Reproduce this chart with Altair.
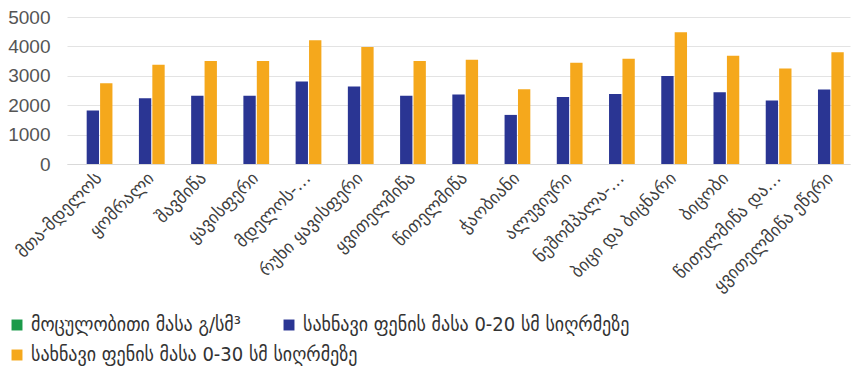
import altair as alt
import pandas as pd

categories = [
    "მთა-მდელოს", "ყომრალი", "შავმიწა", "ყავისფერი", "მდელოს-…",
    "რუხი ყავისფერი", "ყვითელმიწა", "წითელმიწა", "ჭაობიანი", "ალუვიური",
    "ნეშომპალა-…", "ბიცი და ბიცნარი", "ბიცობი", "წითელმიწა და…", "ყვითელმიწა ეწერი",
]
series_names = [
    "მოცულობითი მასა გ/სმ³",
    "სახნავი ფენის მასა 0-20 სმ სიღრმეზე",
    "სახნავი ფენის მასა 0-30 სმ სიღრმეზე",
]
mass_0_20 = [1820, 2240, 2320, 2320, 2810, 2640, 2320, 2360, 1670, 2280, 2380, 2990, 2440, 2160, 2530]
mass_0_30 = [2750, 3380, 3500, 3500, 4210, 3980, 3500, 3550, 2540, 3440, 3580, 4480, 3680, 3250, 3800]
colors = ["#1B9A4A", "#2A3593", "#F5A81C"]

df20 = pd.DataFrame({"cat": categories, "series": series_names[1], "value": mass_0_20})
df30 = pd.DataFrame({"cat": categories, "series": series_names[2], "value": mass_0_30})

font = "DejaVu Sans"
legend_font = "DejaVu Sans Condensed"

x_enc = alt.X("cat:N", sort=categories, title=None,
              scale=alt.Scale(paddingInner=0.25, paddingOuter=0.12),
              axis=alt.Axis(labelAngle=-45, labelFontSize=17.5, labelColor="#404040",
                            labelFont=font, ticks=False, domain=True, domainColor="#d9d9d9",
                            labelPadding=5, labelLimit=300))
xo_enc = alt.XOffset("series:N", sort=series_names,
                     scale=alt.Scale(domain=series_names, paddingInner=0.08))
y_enc = alt.Y("value:Q", title=None,
              scale=alt.Scale(domain=[0, 5000]),
              axis=alt.Axis(values=[0, 1000, 2000, 3000, 4000, 5000], format="d",
                            labelFontSize=19, labelColor="#555555",
                            labelFont="Liberation Sans", ticks=False, domain=False,
                            gridColor="#e3e3e3", labelPadding=17))

leg_common = dict(title=None, orient="none", direction="horizontal",
                  symbolType="square", symbolSize=120, symbolStrokeWidth=0,
                  labelFontSize=20, labelFont=legend_font, labelColor="#333333",
                  labelLimit=500, labelOffset=4)

layer_a = alt.Chart(df20).mark_bar().encode(
    x=x_enc, xOffset=xo_enc, y=y_enc,
    color=alt.Color("series:N", sort=series_names[:2],
                    scale=alt.Scale(domain=series_names[:2], range=colors[:2]),
                    legend=alt.Legend(legendX=-60, legendY=298, columnPadding=38,
                                      **leg_common)),
)
layer_b = alt.Chart(df30).mark_bar().encode(
    x=x_enc, xOffset=xo_enc, y=y_enc,
    color=alt.Color("series:N",
                    scale=alt.Scale(domain=series_names[2:], range=colors[2:]),
                    legend=alt.Legend(legendX=-60, legendY=328, **leg_common)),
)

chart = alt.layer(layer_a, layer_b).resolve_scale(color="independent").properties(
    width=783, height=147,
    autosize=alt.AutoSizeParams(type="none"),
    padding={"left": 67, "top": 17, "right": 6, "bottom": 207},
).configure_view(stroke=None)

chart.save("out.html", embed_options={"renderer": "svg", "actions": False})
